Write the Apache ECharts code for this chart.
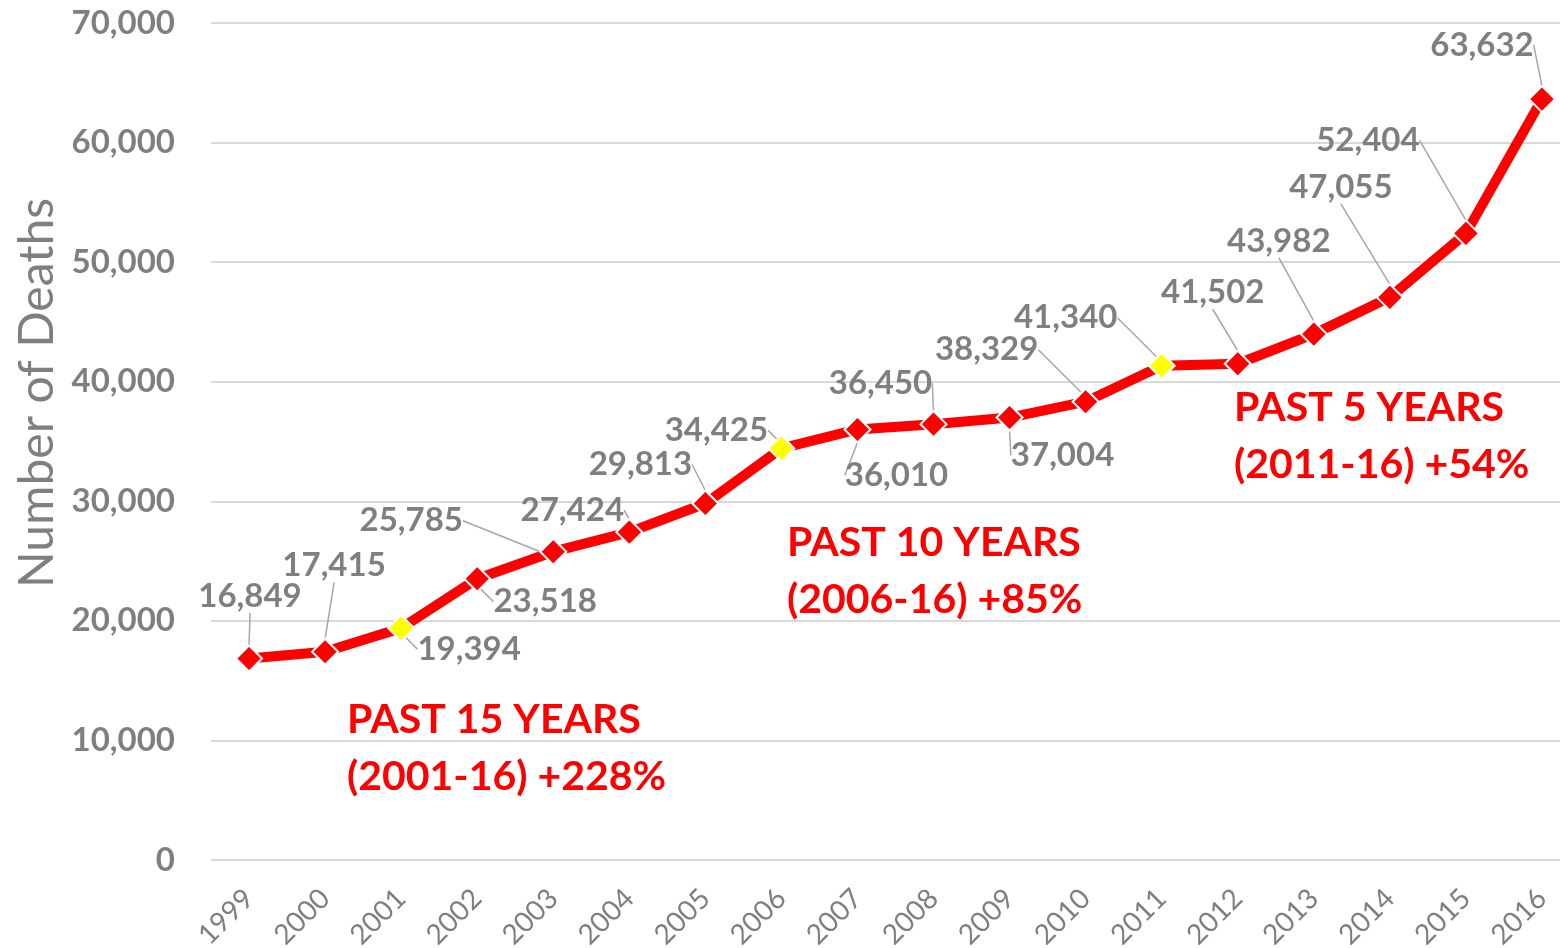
<!DOCTYPE html>
<html>
<head>
<meta charset="utf-8">
<script src="https://cdn.jsdelivr.net/npm/echarts@6/dist/echarts.min.js"></script>
<style>
html,body{margin:0;padding:0;background:#fff;}
#chart{width:1560px;height:948px;}
</style>
</head>
<body>
<div id="chart"></div>
<script>
const years = ['1999','2000','2001','2002','2003','2004','2005','2006','2007','2008','2009','2010','2011','2012','2013','2014','2015','2016'];
const deaths = [16849,17415,19394,23518,25785,27424,29813,34425,36010,36450,37004,38329,41340,41502,43982,47055,52404,63632];
const highlightYears = ['2001','2006','2011'];
const yTicks = [0,10000,20000,30000,40000,50000,60000,70000];
const annotations = [
  ['PAST 15 YEARS','(2001-16) +228%'],
  ['PAST 10 YEARS','(2006-16) +85%'],
  ['PAST 5 YEARS','(2011-16) +54%']
];
const axisTitle = 'Number of Deaths';

// layout-only: label offsets (px) from each point, and annotation anchors
const labelOffsets = [[1,-62],[9,-86],[68,21],[68,23],[-142,-31],[-57,-22],[-65,-39],[-65,-18],[39,46],[-53,-41],[53,38],[-99,-52],[-96,-48],[-25,-71],[-35,-93],[-49,-110],[-98,-93],[-60,-54]];
const annotationPos = [[347,691],[787,514],[1234,379]];

const FONT = 'Lato, "Open Sans", sans-serif';
const GRAY = '#7f7f7f';
const RED = '#ff0000';
const fmt = v => v.toLocaleString('en-US');

const chart = echarts.init(document.getElementById('chart'));
const data = deaths.map((v, i) => ({
  value: v,
  itemStyle: { color: highlightYears.includes(years[i]) ? '#ffff00' : RED }
}));

chart.setOption({
  animation: false,
  grid: { left: 211, right: -20, top: 23, bottom: 88, containLabel: false, outerBoundsMode: 'none' },
  xAxis: {
    type: 'category',
    data: years,
    boundaryGap: true,
    axisLine: { show: false },
    axisTick: { show: false },
    axisLabel: { rotate: 45, color: GRAY, fontFamily: FONT, fontSize: 28, margin: 34, interval: 0 }
  },
  yAxis: {
    type: 'value',
    min: 0, max: 70000, interval: 10000,
    axisLine: { show: false },
    axisTick: { show: false },
    splitLine: { lineStyle: { color: '#d9d9d9', width: 2 } },
    axisLabel: {
      color: GRAY, fontFamily: FONT, fontSize: 33, fontWeight: 'bold', margin: 36,
      formatter: v => yTicks.includes(v) ? fmt(v) : ''
    }
  },
  graphic: [
    {
      type: 'text', x: 38, y: 393, rotation: Math.PI / 2,
      style: { text: axisTitle, fill: GRAY, font: '48px ' + FONT, textAlign: 'center', textVerticalAlign: 'middle' }
    }
  ].concat(annotations.map((a, i) => ({
    type: 'text', x: annotationPos[i][0], y: annotationPos[i][1],
    style: {
      text: a.join('\n'), fill: RED, font: 'bold 41px ' + FONT, lineHeight: 57
    }
  }))),
  series: [{
    type: 'line',
    data: data,
    symbol: 'diamond',
    symbolSize: 26,
    lineStyle: { color: RED, width: 10 },
    itemStyle: { borderColor: '#fff', borderWidth: 2 },
    label: {
      show: true, position: 'inside',
      color: GRAY, fontFamily: FONT, fontSize: 33, fontWeight: 'bold',
      formatter: p => fmt(p.value)
    },
    labelLine: { show: true, lineStyle: { color: '#a6a6a6', width: 1.5 } },
    labelLayout: p => ({ dx: labelOffsets[p.dataIndex][0], dy: labelOffsets[p.dataIndex][1] }),
    z: 3
  }]
});
</script>
</body>
</html>
